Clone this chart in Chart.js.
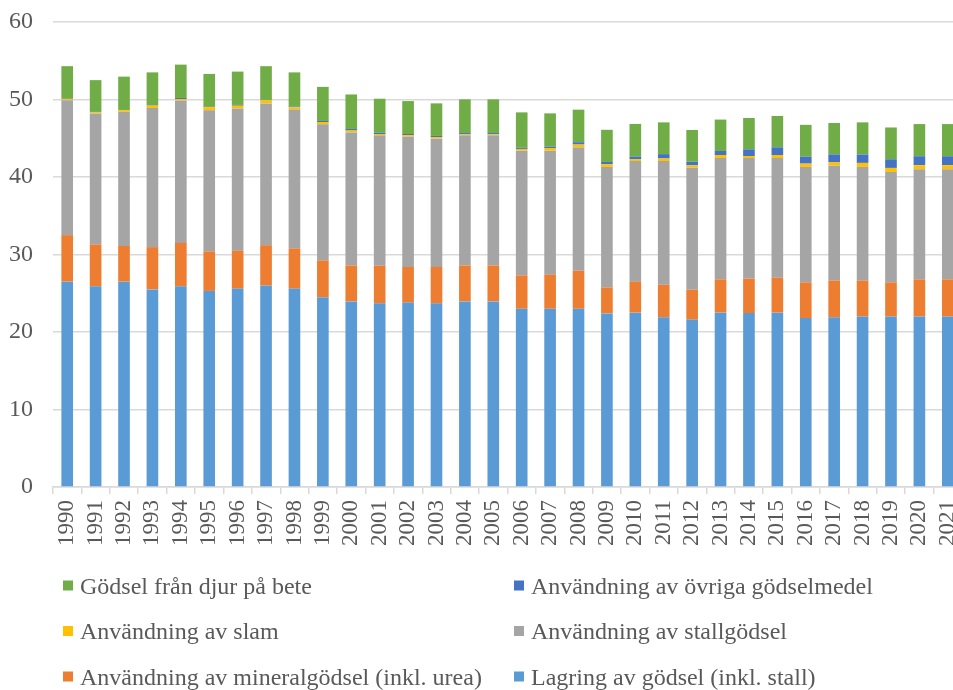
<!DOCTYPE html>
<html lang="sv">
<head>
<meta charset="utf-8">
<title>Lustgasutsläpp från jordbruksmark och gödselhantering 1990–2021</title>
<script src="https://cdn.jsdelivr.net/npm/chart.js@4.4.1/dist/chart.umd.min.js"></script>
<style>
  html, body { margin: 0; padding: 0; background: #ffffff; overflow: hidden; }
  #wrap { position: relative; width: 970px; height: 690px; }
</style>
</head>
<body>
<div id="wrap"><canvas id="chart" width="970" height="690"></canvas></div>
<script>
// Years on the category axis
const years = ['1990','1991','1992','1993','1994','1995','1996','1997','1998','1999',
  '2000','2001','2002','2003','2004','2005','2006','2007','2008','2009',
  '2010','2011','2012','2013','2014','2015','2016','2017','2018','2019','2020','2021'];

// Series, stacked from the bottom up
const lagring = [26.5, 25.9, 26.5, 25.5, 25.9, 25.3, 25.6, 26.0, 25.6, 24.5,
  23.95, 23.7, 23.8, 23.7, 23.95, 23.95, 23.0, 23.0, 23.0, 22.4,
  22.5, 21.9, 21.6, 22.5, 22.45, 22.5, 21.8, 21.9, 22.0, 22.0, 22.0, 22.0];
const mineral = [6.0, 5.4, 4.6, 5.45, 5.6, 5.1, 4.9, 5.2, 5.2, 4.75,
  4.65, 4.85, 4.6, 4.7, 4.65, 4.65, 4.3, 4.4, 4.9, 3.35,
  4.0, 4.2, 3.85, 4.3, 4.45, 4.5, 4.6, 4.75, 4.65, 4.4, 4.8, 4.8];
const stallgodsel = [17.4, 16.9, 17.3, 17.95, 18.35, 18.2, 18.35, 18.3, 17.9, 17.55,
  17.15, 16.85, 16.8, 16.55, 16.8, 16.8, 16.1, 16.0, 15.9, 15.55,
  15.55, 15.95, 15.75, 15.65, 15.55, 15.45, 14.9, 14.85, 14.65, 14.25, 14.2, 14.2];
const slam = [0.15, 0.15, 0.2, 0.3, 0.2, 0.4, 0.35, 0.4, 0.3, 0.3,
  0.25, 0.15, 0.2, 0.2, 0.1, 0.1, 0.22, 0.34, 0.39, 0.34,
  0.26, 0.34, 0.3, 0.39, 0.26, 0.39, 0.43, 0.43, 0.52, 0.52, 0.52, 0.52];
const ovriga = [0.05, 0.05, 0.05, 0.05, 0.15, 0.05, 0.1, 0.05, 0.1, 0.13,
  0.2, 0.15, 0.15, 0.15, 0.17, 0.17, 0.17, 0.17, 0.3, 0.3,
  0.34, 0.56, 0.47, 0.52, 0.86, 0.99, 0.9, 0.99, 1.08, 1.12, 1.16, 1.16];
const bete = [4.2, 4.1, 4.3, 4.25, 4.3, 4.25, 4.3, 4.35, 4.4, 4.4,
  4.45, 4.4, 4.25, 4.2, 4.35, 4.35, 4.55, 4.3, 4.2, 4.15,
  4.2, 4.1, 4.1, 4.05, 4.05, 4.05, 4.1, 4.05, 4.15, 4.1, 4.15, 4.15];

// Y axis ticks
const yTicks = [0, 10, 20, 30, 40, 50, 60];

const FONT = '"Liberation Serif", "Times New Roman", serif';
const TEXT = '#595959';
const GRID = '#d9d9d9';

// Two-column legend drawn under the plot, top of the stack first
const gridLegend = {
  id: 'gridLegend',
  afterDraw(chart, args, opts) {
    const ctx = chart.ctx;
    const items = chart.data.datasets.map((d, i) => ({ label: d.label, color: d.backgroundColor })).reverse();
    ctx.save();
    ctx.font = opts.fontSize + 'px ' + FONT;
    ctx.fillStyle = TEXT;
    ctx.textBaseline = 'alphabetic';
    items.forEach((it, i) => {
      const col = i % 2, row = Math.floor(i / 2);
      const x = opts.columns[col];
      const base = opts.rows[row];
      ctx.fillStyle = it.color;
      ctx.fillRect(x, base - 8 - opts.box / 2, opts.box, opts.box);
      ctx.fillStyle = TEXT;
      ctx.fillText(it.label, x + opts.box + 7, base);
    });
    ctx.restore();
  }
};

const mk = (label, data, color) => ({
  label, data, backgroundColor: color, borderWidth: 0,
  barPercentage: 0.41, categoryPercentage: 1.0
});

new Chart(document.getElementById('chart'), {
  type: 'bar',
  data: {
    labels: years,
    datasets: [
      mk('Lagring av gödsel (inkl. stall)', lagring, '#5b9bd5'),
      mk('Användning av mineralgödsel (inkl. urea)', mineral, '#ed7d31'),
      mk('Användning av stallgödsel', stallgodsel, '#a5a5a5'),
      mk('Användning av slam', slam, '#ffc000'),
      mk('Användning av övriga gödselmedel', ovriga, '#4472c4'),
      mk('Gödsel från djur på bete', bete, '#70ad47')
    ]
  },
  options: {
    responsive: false,
    animation: false,
    layout: { padding: { top: 22, right: 8, left: 0, bottom: 0 } },
    plugins: {
      legend: { display: false },
      tooltip: { enabled: false },
      gridLegend: { columns: [63, 514], rows: [593.5, 639, 684.5], box: 10, fontSize: 24 }
    },
    scales: {
      x: {
        stacked: true,
        grid: { display: true, drawOnChartArea: false, drawTicks: true, tickLength: 7, color: GRID, lineWidth: 1.5, offset: true },
        border: { display: true, color: GRID, width: 1.5 },
        ticks: {
          autoSkip: false, minRotation: 90, maxRotation: 90, padding: 6,
          color: TEXT, font: { family: FONT, size: 23 }
        },
        afterFit(scale) { scale.height = 203; scale.paddingLeft = 0; scale.paddingRight = 0; }
      },
      y: {
        stacked: true,
        min: 0, max: 60,
        afterBuildTicks(scale) { scale.ticks = yTicks.map(v => ({ value: v })); },
        grid: { color: GRID, lineWidth: 1.5, drawTicks: false },
        border: { display: false },
        ticks: { padding: 20, color: TEXT, font: { family: FONT, size: 24 } },
        afterFit(scale) { scale.width = 53; scale.paddingTop = 0; scale.paddingBottom = 0; }
      }
    }
  },
  plugins: [gridLegend]
});
</script>
</body>
</html>
